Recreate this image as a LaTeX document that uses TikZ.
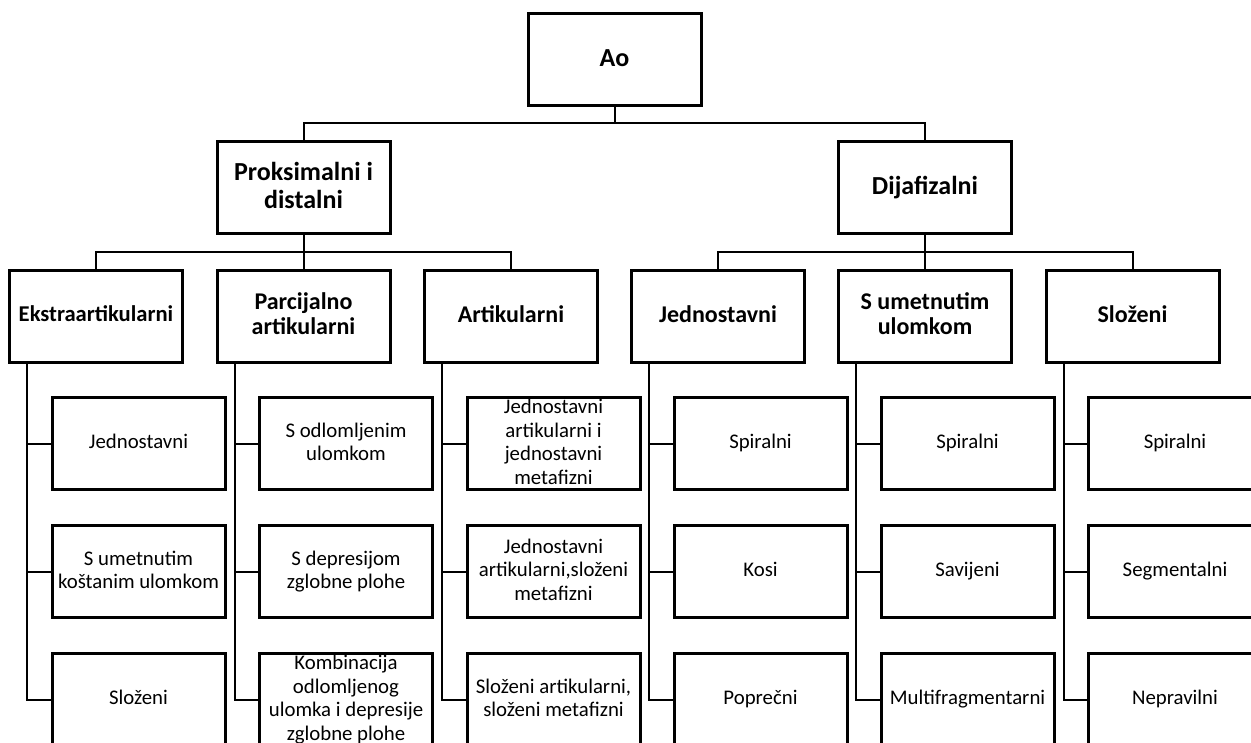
\documentclass[tikz,border=0pt]{standalone}
\usepackage{fontspec}
\setmainfont{Carlito}
\usepackage{tikz}
\usetikzlibrary{positioning}
\newcommand\cstrut{\rule[-0.18em]{0pt}{0.82em}}

\begin{document}
\begin{tikzpicture}[x=0.5pt, y=-0.5pt,
  font=\fontsize{10.4}{11.75}\selectfont,
  head/.style={draw, line width=1.5pt, minimum width=86.5pt, minimum height=46pt,
    inner sep=1pt, align=center, font=\bfseries\fontsize{12}{12.5}\selectfont,
    execute at begin node=\cstrut, execute at end node=\cstrut},
  top/.style={head, font=\bfseries\fontsize{13}{14}\selectfont},
  leaf/.style={draw, line width=1.5pt, minimum width=86.5pt, minimum height=46pt,
    inner sep=0pt, label={[leaftext]center:#1}},
  leaftext/.style={align=center, inner sep=0pt,
    execute at begin node=\cstrut, execute at end node=\cstrut},
  link/.style={line width=1pt}]
\useasboundingbox (0,0) rectangle (1251,743);
\clip (0,0) rectangle (1251,743);
% top levels
\node[top] (ao) at (614.5,60) {Ao};
\node[top] (prox) at (303.5,187.5) {Proksimalni i\\distalni};
\node[top] (dij) at (925,187.5) {Dijafizalni};
\node[head, font=\bfseries\fontsize{11.3}{12.5}\selectfont] (ekstra) at (96,316) {Ekstraartikularni};
\node[head] (parc) at (303.5,316) {Parcijalno\\artikularni};
\node[head] (artik) at (511,316) {Artikularni};
\node[head] (jedn) at (718,316) {Jednostavni};
\node[head] (sumet) at (925,316) {S umetnutim\\ulomkom};
\node[head] (sloz) at (1132.5,316) {Složeni};
% leaves
\node[leaf={Jednostavni}] (e1) at (138.5,443.5) {};
\node[leaf={S umetnutim\\koštanim ulomkom}] (e2) at (138.5,571.5) {};
\node[leaf={Složeni}] (e3) at (138.5,699.5) {};
\node[leaf={S odlomljenim\\ulomkom}] (p1) at (346,443.5) {};
\node[leaf={S depresijom\\zglobne plohe}] (p2) at (346,571.5) {};
\node[leaf={Kombinacija\\odlomljenog\\ulomka i depresije\\zglobne plohe}] (p3) at (346,699.5) {};
\node[leaf={Jednostavni\\artikularni i\\jednostavni\\metafizni}] (a1) at (553.5,443.5) {};
\node[leaf={Jednostavni\\artikularni,složeni\\metafizni}] (a2) at (553.5,571.5) {};
\node[leaf={Složeni artikularni,\\složeni metafizni}] (a3) at (553.5,699.5) {};
\node[leaf={Spiralni}] (j1) at (760.5,443.5) {};
\node[leaf={Kosi}] (j2) at (760.5,571.5) {};
\node[leaf={Poprečni}] (j3) at (760.5,699.5) {};
\node[leaf={Spiralni}] (u1) at (967.5,443.5) {};
\node[leaf={Savijeni}] (u2) at (967.5,571.5) {};
\node[leaf={Multifragmentarni}] (u3) at (967.5,699.5) {};
\node[leaf={Spiralni}] (s1) at (1175,443.5) {};
\node[leaf={Segmentalni}] (s2) at (1175,571.5) {};
\node[leaf={Nepravilni}] (s3) at (1175,699.5) {};
% connectors
\coordinate (k0) at (614.5,123);
\coordinate (k1) at (303.5,252);
\coordinate (k2) at (925,252);
\draw[link] (ao.south) -- (k0);
\draw[link] (prox.north) |- (k0) -| (dij.north);
\draw[link] (prox.south) -- (parc.north);
\draw[link] (ekstra.north) |- (k1) -| (artik.north);
\draw[link] (dij.south) -- (sumet.north);
\draw[link] (jedn.north) |- (k2) -| (sloz.north);
\coordinate (es) at ([xshift=-34.5pt]ekstra.south);
\coordinate (ps) at ([xshift=-34.5pt]parc.south);
\coordinate (as) at ([xshift=-34.5pt]artik.south);
\coordinate (js) at ([xshift=-34.5pt]jedn.south);
\coordinate (us) at ([xshift=-34.5pt]sumet.south);
\coordinate (ss) at ([xshift=-34.5pt]sloz.south);
\draw[link] (es) |- (e3.west);
\draw[link] (e1.west) -- (e1.west -| es);
\draw[link] (e2.west) -- (e2.west -| es);
\draw[link] (ps) |- (p3.west);
\draw[link] (p1.west) -- (p1.west -| ps);
\draw[link] (p2.west) -- (p2.west -| ps);
\draw[link] (as) |- (a3.west);
\draw[link] (a1.west) -- (a1.west -| as);
\draw[link] (a2.west) -- (a2.west -| as);
\draw[link] (js) |- (j3.west);
\draw[link] (j1.west) -- (j1.west -| js);
\draw[link] (j2.west) -- (j2.west -| js);
\draw[link] (us) |- (u3.west);
\draw[link] (u1.west) -- (u1.west -| us);
\draw[link] (u2.west) -- (u2.west -| us);
\draw[link] (ss) |- (s3.west);
\draw[link] (s1.west) -- (s1.west -| ss);
\draw[link] (s2.west) -- (s2.west -| ss);
\end{tikzpicture}
\end{document}
